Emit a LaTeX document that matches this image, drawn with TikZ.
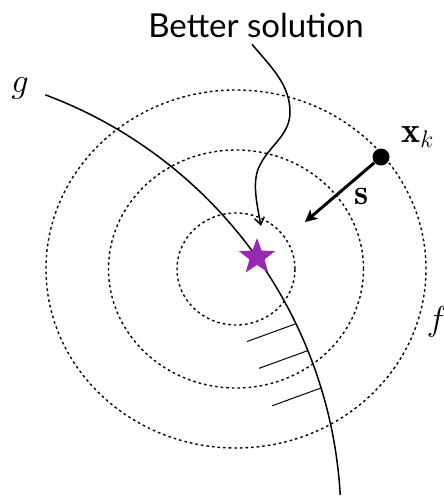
\documentclass[tikz,border=0pt]{standalone}
\usepackage{amsmath}
\usepackage{fontspec}
\newfontfamily\labelfont{Lato}
\usepackage{tikz}
\usetikzlibrary{arrows.meta, shapes.geometric, calc}
\definecolor{starpurple}{RGB}{150,40,180}

\begin{document}
\begin{tikzpicture}[
		x=0.5pt, y=-0.5pt,
		level/.style={line width=0.7pt, dash pattern=on 1.3pt off 1.5pt},
		constraint/.style={line width=0.75pt},
		hatch/.style={line width=0.5pt},
		pointer/.style={line width=0.75pt, -{Straight Barb[length=3.5pt, width=5pt]}},
		steparrow/.style={line width=1.5pt, -{Stealth[length=6pt, width=6pt, inset=1.5pt]}},
		solstar/.style={star, star points=5, star point ratio=2.4, fill=starpurple, minimum size=19pt, inner sep=0pt},
		xdot/.style={circle, fill=black, minimum size=8.5pt, inner sep=0pt},
		mathlabel/.style={font=\fontsize{18}{21}\selectfont, inner sep=0pt},
		textlabel/.style={font=\labelfont\fontsize{16.5}{19}\selectfont}
		]
		\useasboundingbox (0,0) rectangle (444,499);

		% level sets of f
		\coordinate (fmin) at (236,269);
		\draw[level] (fmin) ellipse [x radius=95pt, y radius=89.5pt];
		\draw[level] (fmin) ellipse [x radius=63.75pt, y radius=59.5pt];
		\draw[level] (fmin) ellipse [x radius=29.5pt, y radius=28pt];

		% constraint g with its infeasible side
		\coordinate (gcenter) at (-114,521);
		\draw[constraint] (gcenter) ++(69.5:227.5pt) arc[start angle=69.5, end angle=3.3, radius=227.5pt];
		\foreach \a in {25.7, 22.0, 17.0}
			\draw[hatch] (gcenter) ++(\a:227.5pt) -- ++(200:26pt);

		\node[solstar] (best) at (257,257) {};
		\node[xdot] (xk) at (381,157) {};
		\coordinate (stip) at (305,222);

		\node[mathlabel] (xklabel) at (418,137) {$\mathbf{x}_k$};
		\node[mathlabel] (slabel) at (362,196) {$\mathbf{s}$};
		\node[mathlabel] (glabel) at (20,88) {$g$};
		\node[mathlabel] (flabel) at (437,322) {$f$};
		\node[textlabel] (better) at (256,25) {Better solution};

		\draw[steparrow] (xk) -- (stip);
		\draw[pointer] ([xshift=-2pt]better.south) .. controls (272,68) and (290,85) .. (290,112)
			.. controls (290,135) and (270,145) .. (260,165)
			.. controls (252,180) and (256,200) .. ([shift={(2pt,5.5pt)}]best.north);
	\end{tikzpicture}
\end{document}
